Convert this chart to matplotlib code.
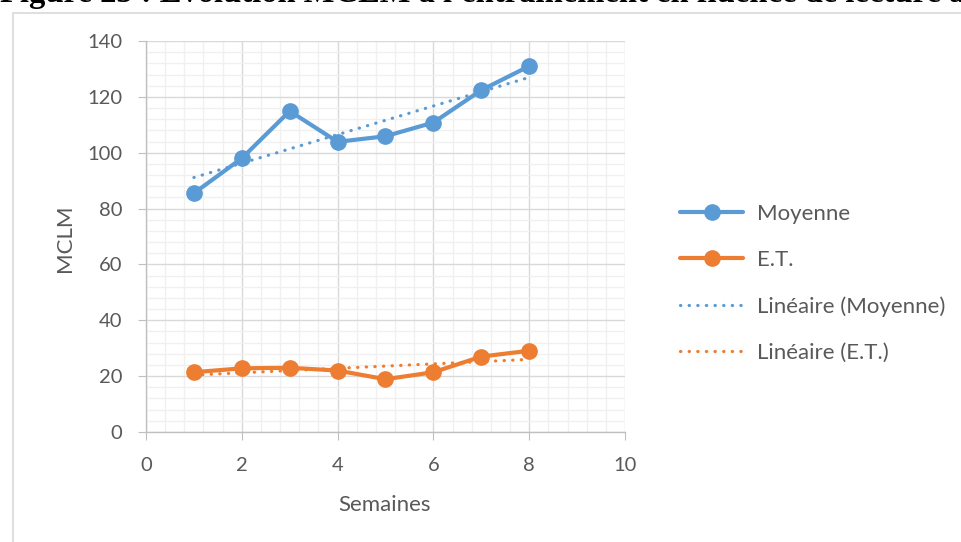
import numpy as np
import matplotlib
matplotlib.use("Agg")
import matplotlib.pyplot as plt
from matplotlib.patches import Rectangle
from matplotlib.ticker import MultipleLocator

weeks = [1, 2, 3, 4, 5, 6, 7, 8]
moyenne = [85.5, 98.0, 114.9, 103.9, 105.9, 110.8, 122.4, 131.0]
et = [21.4, 22.8, 23.0, 22.0, 18.9, 21.4, 27.0, 29.1]
labels = ["Moyenne", "E.T.", "Linéaire (Moyenne)", "Linéaire (E.T.)"]
title = "Figure 25 : Évolution MCLM à l'entraînement en fluence de lecture à"

BLUE = "#5B9BD5"
ORANGE = "#ED7D31"
TXT = "#595959"
FONT = "Lato"

fig = plt.figure(figsize=(9.62, 5.42), dpi=100)
W, H = 962, 542

# outer chart border
fig.patches.append(Rectangle((13 / W, -0.05), 1.1, 1 - 13 / H + 0.05, transform=fig.transFigure,
                             fill=False, edgecolor="#d9d9d9", lw=1.2))

# cut-off title
fig.text(0.0, 1 - 2 / H, title, fontsize=23.5, fontweight="bold", family="Liberation Serif",
         ha="left", va="baseline", color="black")

ax = fig.add_axes([146 / W, 1 - 432 / H, (625 - 146) / W, (432 - 41) / H])
ax.set_xlim(0, 10)
ax.set_ylim(0, 140)
ax.xaxis.set_major_locator(MultipleLocator(2))
ax.xaxis.set_minor_locator(MultipleLocator(0.4))
ax.yaxis.set_major_locator(MultipleLocator(20))
ax.yaxis.set_minor_locator(MultipleLocator(4))
ax.grid(which="minor", color="#f0f0f0", lw=1.0)
ax.grid(which="major", color="#d9d9d9", lw=1.0)
ax.set_axisbelow(True)
for s in ["top", "right"]:
    ax.spines[s].set_visible(False)
for s in ["left", "bottom"]:
    ax.spines[s].set_color("#bfbfbf")
    ax.spines[s].set_linewidth(1.0)
ax.tick_params(which="major", direction="out", length=6, color="#bfbfbf", labelcolor=TXT,
               labelsize=14.5)
ax.tick_params(axis="x", pad=12)
ax.tick_params(axis="y", pad=11)
ax.tick_params(which="minor", length=0)
for lab in ax.get_xticklabels() + ax.get_yticklabels():
    lab.set_family(FONT)

x = np.array(weeks, dtype=float)
l1, = ax.plot(x, moyenne, color=BLUE, lw=3.0, marker="o", ms=11, solid_capstyle="round", zorder=4)
l2, = ax.plot(x, et, color=ORANGE, lw=3.0, marker="o", ms=11, solid_capstyle="round", zorder=4)

pm = np.polyfit(x, moyenne, 1)
pe = np.polyfit(x, et, 1)
dot = (0, (0.1, 2.6))
l3, = ax.plot(x, np.polyval(pm, x), color=BLUE, lw=2.3, linestyle=dot, dash_capstyle="round", zorder=3)
l4, = ax.plot(x, np.polyval(pe, x), color=ORANGE, lw=2.3, linestyle=dot, dash_capstyle="round", zorder=3)

ax.set_xlabel("Semaines", fontsize=16, color=TXT, family=FONT)
ax.set_ylabel("MCLM", fontsize=16, color=TXT, family=FONT)
ax.xaxis.set_label_coords(0.499, -0.162)
ax.yaxis.set_label_coords(-0.148, 0.495)

leg = fig.legend([l1, l2, l3, l4], labels, loc="upper left",
                 bbox_to_anchor=(680 / W, 1 - 204 / H), frameon=False,
                 borderpad=0, borderaxespad=0,
                 prop={"family": FONT, "size": 16}, labelcolor=TXT,
                 handlelength=2.85, labelspacing=1.17, handletextpad=0.62, numpoints=1)

fig.savefig("out.png", dpi=100, facecolor="white")
